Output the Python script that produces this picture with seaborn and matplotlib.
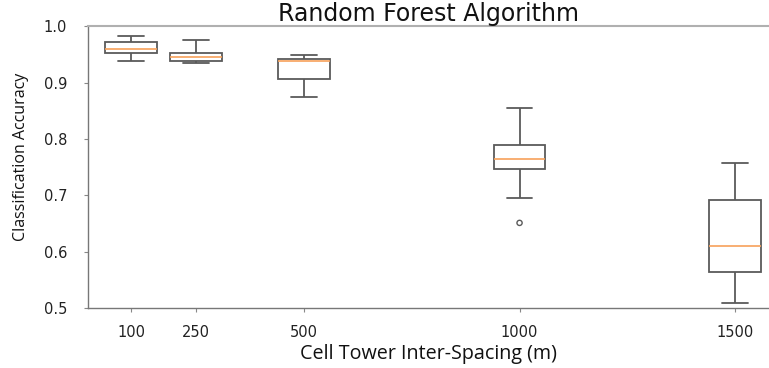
import numpy as np
import pandas as pd
import matplotlib
matplotlib.use("Agg")
import matplotlib.pyplot as plt
import seaborn as sns

# Data (five-number summaries per spacing)
spacing = [100, 250, 500, 1000, 1500]
whisker_low = [0.938, 0.934, 0.874, 0.696, 0.509]
q1 = [0.952, 0.939, 0.906, 0.746, 0.564]
median = [0.960, 0.945, 0.939, 0.764, 0.610]
q3 = [0.971, 0.953, 0.942, 0.790, 0.691]
whisker_high = [0.982, 0.975, 0.948, 0.855, 0.757]
outlier_x = [1000]
outlier_y = [0.651]
y_ticks = [0.5, 0.6, 0.7, 0.8, 0.9, 1.0]

rows = []
for s, a, b, c, d, e in zip(spacing, whisker_low, q1, median, q3, whisker_high):
    for v in (a, b, c, d, e):
        rows.append({"spacing": s, "acc": v})
df = pd.DataFrame(rows)
df_out = pd.DataFrame({"spacing": outlier_x, "acc": outlier_y})

sns.set_theme(style="white")
plt.rcParams["font.family"] = ["DejaVu Sans"]

fig = plt.figure(figsize=(7.69, 3.68), dpi=100)
ax = fig.add_axes([0.1144, 0.163, 0.8856, 0.766])

edge = "#5a5a5a"
sns.boxplot(data=df, x="spacing", y="acc", native_scale=True, whis=(0, 100),
            color="white", linecolor=edge, linewidth=1.3, width=0.8,
            medianprops={"color": "#f7a15a", "linewidth": 1.2},
            showfliers=False, ax=ax)
sns.scatterplot(data=df_out, x="spacing", y="acc", marker="o", s=14,
                facecolor="none", edgecolor=edge, linewidth=1.0, ax=ax,
                legend=False)

ax.set_xlim(0, 1578)
ax.set_ylim(0.5, 1.0)
ax.set_xticks(spacing)
ax.set_xticklabels([str(s) for s in spacing], fontsize=10.5, color="#222222")
ax.set_yticks(y_ticks)
ax.set_yticklabels([f"{t:.1f}" for t in y_ticks], fontsize=10.5, color="#222222")
ax.tick_params(axis="both", which="both", length=3, width=0.8, color="#888888",
               direction="out", left=True, bottom=True)
ax.tick_params(axis="x", pad=9)
ax.tick_params(axis="y", pad=12)

for side in ["left", "bottom"]:
    ax.spines[side].set_color("#777777")
    ax.spines[side].set_linewidth(1.0)
ax.spines["top"].set_color("#b0b0b0")
ax.spines["top"].set_linewidth(1.5)
ax.spines["right"].set_visible(False)

ax.set_title("Random Forest Algorithm", fontsize=17, pad=4, color="#111111")
ax.set_xlabel("Cell Tower Inter-Spacing (m)", fontsize=14.2, family=["Open Sans", "DejaVu Sans"],
              color="#111111", labelpad=3)
ax.set_ylabel("Classification Accuracy", fontsize=11.5, family=["Open Sans", "DejaVu Sans"],
              color="#111111")
ax.yaxis.set_label_coords(-0.087, 0.535)

fig.savefig("out.png", dpi=100)
